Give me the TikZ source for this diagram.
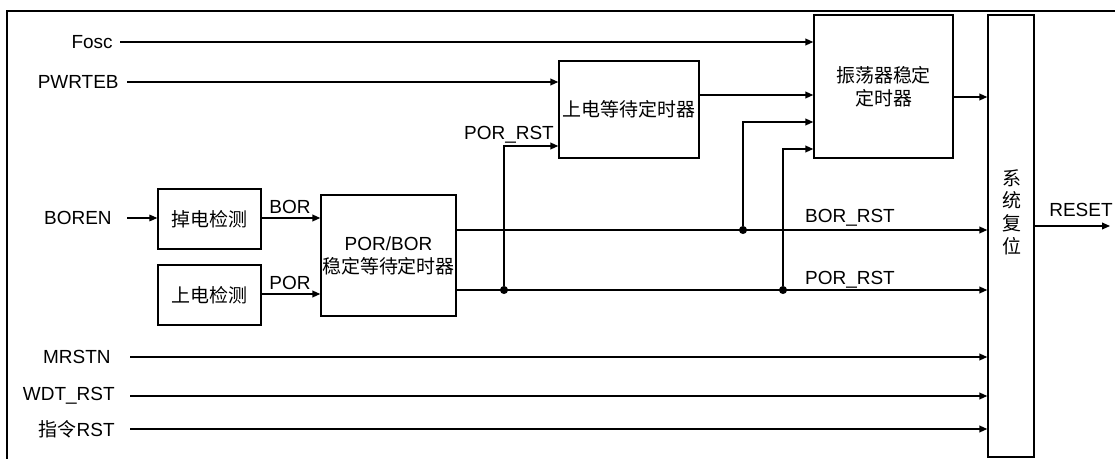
\documentclass[tikz,border=0pt]{standalone}
\usepackage{fontspec}
\setmainfont{Liberation Sans}
\newfontfamily\cjk{Noto Sans CJK SC}
\usetikzlibrary{arrows.meta, positioning}

\begin{document}
\begin{tikzpicture}[
    x=0.02cm, y=-0.02cm,
    font=\fontsize{10.8}{13}\selectfont,
    block/.style={rectangle, draw, line width=0.8pt, inner sep=0pt, align=center, font=\cjk\fontsize{10.8}{13}\selectfont},
    signal/.style={anchor=east, inner sep=0pt},
    tag/.style={anchor=base, inner sep=0pt},
    arrow/.style={-{Triangle[length=4.5pt,width=3.8pt]}, line width=0.8pt},
    dot/.style={circle, fill, inner sep=0pt, minimum size=4.6pt}
]
    \useasboundingbox (0,0) rectangle (1115,459);
    \draw[line width=1.2pt] (7,480) |- (1130,11);

    % blocks
    \node[block, minimum width=2.06cm, minimum height=1.2cm] (bordet) at (209.5,219) {掉电检测};
    \node[block, minimum width=2.06cm, minimum height=1.2cm] (pordet) at (209.5,295) {上电检测};
    \node[block, minimum width=2.7cm, minimum height=2.42cm] (porbor) at (388.5,255.5) {{\normalfont POR/BOR}\\稳定等待定时器};
    \node[block, minimum width=2.8cm, minimum height=1.94cm] (pwrt) at (629,109.5) {上电等待定时器};
    \node[block, minimum width=2.78cm, minimum height=2.86cm] (ost) at (883.5,86.5) {振荡器稳定\\定时器};
    \node[block, minimum width=0.92cm, minimum height=8.84cm] (sysrst) at (1011,236) {};
    \node[align=center, inner sep=0pt, font=\cjk\fontsize{10.8}{12.9}\selectfont] (sysrsttxt) at (1012,212) {系\\统\\复\\位};

    % inputs
    \node[signal] (fosc) at (113,42) {Fosc};
    \node[signal] (pwrteb) at (119,82) {PWRTEB};
    \node[signal] (boren) at (112,218) {BOREN};
    \node[signal] (mrstn) at (111,357) {MRSTN};
    \node[signal] (wdt) at (115,396) {WDT\_RST};
    \node[signal] (instr) at (115,429) {{\cjk 指令}RST};

    % junctions
    \node[dot] (j1) at (504,290) {};
    \node[dot] (j2) at (743,230) {};
    \node[dot] (j3) at (783,290) {};
    \coordinate (resetend) at (1110,226);

    % labels
    \node[tag] (borlbl) at (290,214) {BOR};
    \node[tag] (porlbl) at (290,289) {POR};
    \node[tag] (porrstup) at (509,140) {POR\_RST};
    \node[tag] (borrst) at (850,222) {BOR\_RST};
    \node[tag] (porrst) at (850,284) {POR\_RST};
    \node[tag] (reset) at (1081,216) {RESET};

    \draw[arrow] (fosc.east) ++(7,0) -- (fosc -| ost.west);
    \draw[arrow] (pwrteb.east) ++(8,0) -- (pwrteb -| pwrt.west);
    \draw[arrow, line width=0.6pt] (boren.east) ++(15,0) -- (boren -| bordet.west);
    \draw[arrow] (bordet.east |- boren) -- (boren -| porbor.west);
    \draw[arrow] (pordet.east |- 0,294) -- (porbor.west |- 0,294);
    \draw[arrow] (porbor.east |- j2) -- (j2 -| sysrst.west);
    \draw[arrow] (porbor.east |- j1) -- (j1 -| sysrst.west);
    \draw[arrow] (j1) |- (pwrt.west |- 0,146);
    \draw[arrow] (j2) |- (ost.west |- 0,122);
    \draw[arrow] (j3) |- (ost.west |- 0,149);
    \draw[arrow] (pwrt.east |- 0,95) -- (ost.west |- 0,95);
    \draw[arrow] (ost.east |- 0,97) -- (sysrst.west |- 0,97);
    \draw[arrow] (sysrst.east |- resetend) -- (resetend);
    \draw[arrow] (mrstn.east) ++(19,0) -- (mrstn -| sysrst.west);
    \draw[arrow] (wdt.east) ++(15,0) -- (wdt -| sysrst.west);
    \draw[arrow] (instr.east) ++(15,0) -- (instr -| sysrst.west);
\end{tikzpicture}
\end{document}
